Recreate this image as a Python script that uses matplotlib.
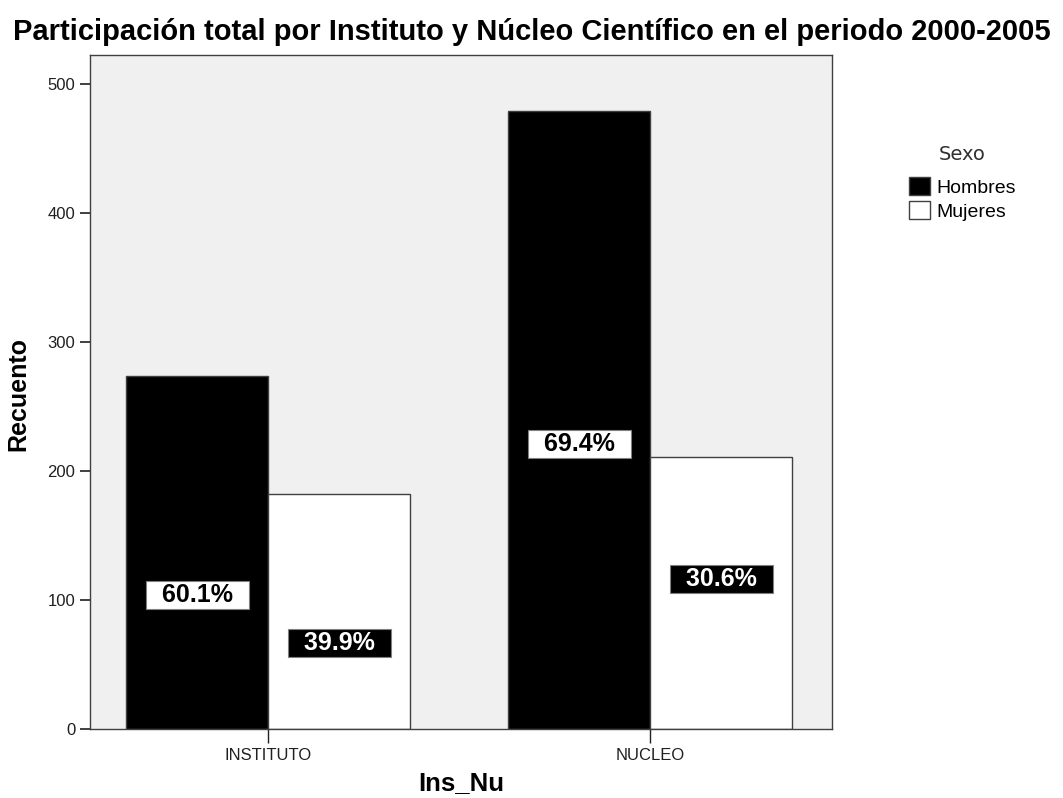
import matplotlib.pyplot as plt
import numpy as np
from matplotlib.patches import Patch

categories = ["INSTITUTO", "NUCLEO"]
hombres = [274, 479]
mujeres = [182, 211]
pct_hombres = ["60.1%", "69.4%"]
pct_mujeres = ["39.9%", "30.6%"]
# heights where the percentage boxes sit
label_y_hombres = [104, 221]
label_y_mujeres = [67, 116]

plt.rcParams["font.family"] = ["Liberation Sans", "DejaVu Sans"]

fig = plt.figure(figsize=(10.63, 7.98), dpi=100)
ax = fig.add_axes([0.0847, 0.0865, 0.698, 0.845])
ax.set_facecolor("#f0f0f0")

x = np.arange(len(categories))
w = 0.372
ax.bar(x - w / 2, hombres, w, color="black", edgecolor="#404040", linewidth=1, label="Hombres")
ax.bar(x + w / 2, mujeres, w, color="white", edgecolor="#404040", linewidth=1, label="Mujeres")

for i in range(len(categories)):
    ax.text(x[i] - w / 2, label_y_hombres[i], "  " + pct_hombres[i] + "  ", ha="center", va="center",
            fontsize=18, fontweight="bold", color="black",
            bbox=dict(boxstyle="square,pad=0.08", facecolor="white", edgecolor="#808080", linewidth=0.8))
    ax.text(x[i] + w / 2, label_y_mujeres[i], "  " + pct_mujeres[i] + "  ", ha="center", va="center",
            fontsize=18, fontweight="bold", color="white",
            bbox=dict(boxstyle="square,pad=0.08", facecolor="black", edgecolor="#808080", linewidth=0.8))

ax.set_xlim(-0.466, 1.476)
ax.set_ylim(0, 523)
ax.set_yticks([0, 100, 200, 300, 400, 500])
ax.set_xticks(x)
ax.set_xticklabels(categories)
ax.tick_params(axis="y", length=7, width=1.2, labelsize=12, colors="#202020")
ax.tick_params(axis="x", length=10, width=1, labelsize=12, colors="#202020")
for s in ax.spines.values():
    s.set_color("#404040")
    s.set_linewidth(1)

ax.set_ylabel("Recuento", fontsize=18, fontweight="bold")
ax.set_xlabel("Ins_Nu", fontsize=18.5, fontweight="bold", labelpad=6)
ax.yaxis.set_label_coords(-0.081, 0.497)
fig.suptitle("Participación total por Instituto y Núcleo Científico en el periodo 2000-2005",
             fontsize=21, fontweight="bold", x=0.5, y=0.978)

handles = [Patch(facecolor="black", edgecolor="#404040", label="Hombres"),
           Patch(facecolor="white", edgecolor="#404040", label="Mujeres")]
leg = fig.legend(handles=handles, title="Sexo", loc="upper left", bbox_to_anchor=(0.855, 0.818),
                 frameon=False, fontsize=14, handlelength=1.1, handleheight=1.1,
                 handletextpad=0.3, labelspacing=0.2, borderpad=0, borderaxespad=0)
leg.get_title().set_fontfamily("DejaVu Sans")
leg.get_title().set_fontsize(14)
leg.get_title().set_color("#303030")
leg._legend_box.sep = 9

plt.savefig("out.png")
plt.close()
